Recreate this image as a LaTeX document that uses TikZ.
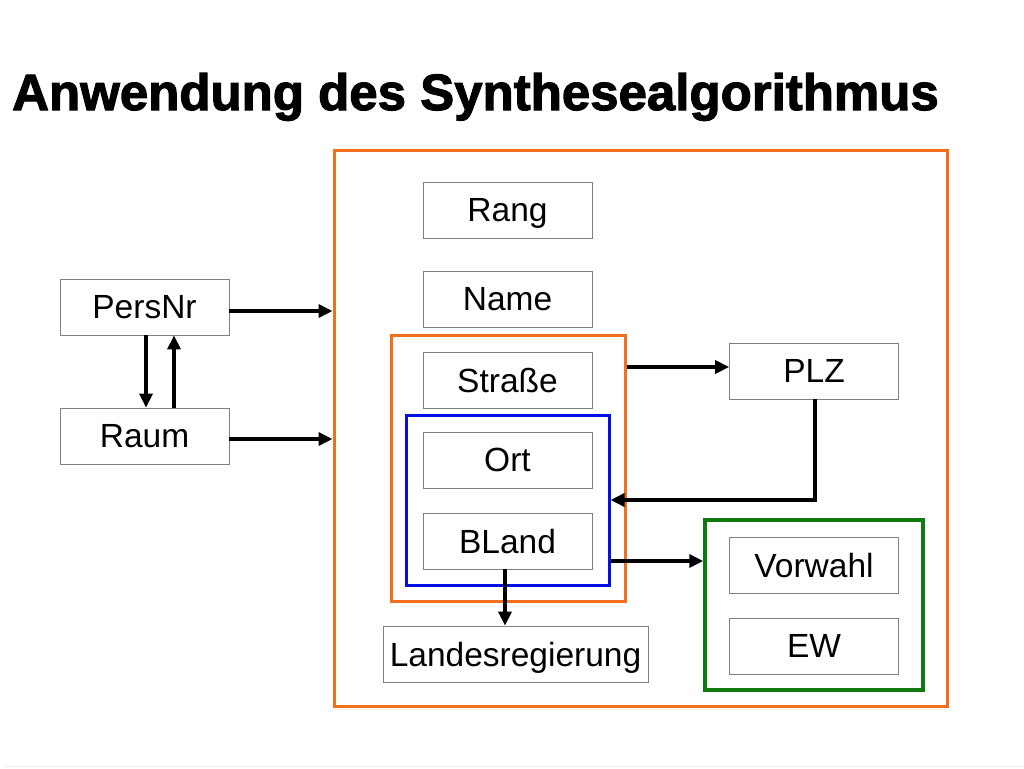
\documentclass[tikz,border=0pt]{standalone}
\usepackage{fontspec}
\setmainfont{Liberation Sans}
\usetikzlibrary{arrows.meta}
\definecolor{orng}{HTML}{F07020}
\definecolor{blu}{HTML}{0010E0}
\definecolor{grn}{HTML}{107A10}
\definecolor{boxgray}{HTML}{808080}
\newcommand{\heavytext}[1]{\special{pdf:literal direct 2 Tr 1.1 w}#1\special{pdf:literal direct 0 Tr 1 w}}
\begin{document}
\begin{tikzpicture}[x=1pt,y=-1pt,
  attr/.style={draw=boxgray,line width=0.8pt,minimum width=169pt,minimum height=56pt,inner sep=0pt,
    font=\fontsize{33.5}{36}\selectfont,text depth=0pt},
  frameo/.style={draw=orng,line width=3pt},
  frameb/.style={draw=blu,line width=3pt},
  frameg/.style={draw=grn,line width=3.5pt},
  arr/.style={line width=3.5pt,-{Triangle[length=14pt,width=13pt]}}]
\useasboundingbox (0,0) rectangle (1024,768);
\fill[white] (0,0) rectangle (1024,768);
\draw[gray!15,line width=1pt] (4,766.5) -- (1024,766.5);
\node[anchor=base west,inner sep=0pt,font=\bfseries\fontsize{51}{54}\selectfont] (title) at (12,110) {\heavytext{Anwendung des Synthesealgorithmus}};
% frames
\node[frameo,inner sep=0pt,minimum width=613pt,minimum height=556pt] (big) at (640.5,428) {};
\node[frameo,inner sep=0pt,minimum width=234pt,minimum height=266pt] (inner) at (508,468) {};
\node[frameb,inner sep=0pt,minimum width=203pt,minimum height=170pt] (blue) at (507.5,500) {};
\node[frameg,inner sep=0pt,minimum width=218pt,minimum height=170pt] (green) at (814,605) {};
% attributes
\node[attr] (persnr) at (144.5,307) {PersNr};
\node[attr] (raum) at (144.5,436) {Raum};
\node[attr] (rang) at (507.5,210) {Rang};
\node[attr] (name) at (507.5,299) {Name};
\node[attr] (strasse) at (507.5,380) {Straße};
\node[attr] (ort) at (507.5,460) {Ort};
\node[attr] (bland) at (507.5,541) {BLand};
\node[attr,minimum width=265pt] (land) at (515.5,654) {Landesregierung};
\node[attr] (plz) at (814,371) {PLZ};
\node[attr] (vorwahl) at (814,565) {Vorwahl};
\node[attr] (ew) at (814,646) {EW};
% coordinates
\coordinate (bigA) at (big.west |- 0,311);
\coordinate (bigB) at (big.west |- 0,439);
\coordinate (pr1) at (146,0);
\coordinate (pr2) at (174,0);
\coordinate (s1) at (inner.east |- 0,367);
\coordinate (plzturn) at (815,500);
\coordinate (bl1) at (blue.east |- 0,561);
\coordinate (bld) at (505,0);
% connectors
\draw[arr] (persnr.east |- bigA) -- (bigA);
\draw[arr] (raum.east |- bigB) -- (bigB);
\draw[arr] (persnr.south -| pr1) -- (raum.north -| pr1);
\draw[arr] (raum.north -| pr2) -- (persnr.south -| pr2);
\draw[arr] (s1) -- (plz.west |- s1);
\draw[arr] (plz.south -| plzturn) -- (plzturn) -- (blue.east |- plzturn);
\draw[arr] (bl1) -- (green.west |- bl1);
\draw[arr] (bland.south -| bld) -- (land.north -| bld);
\end{tikzpicture}
\end{document}
